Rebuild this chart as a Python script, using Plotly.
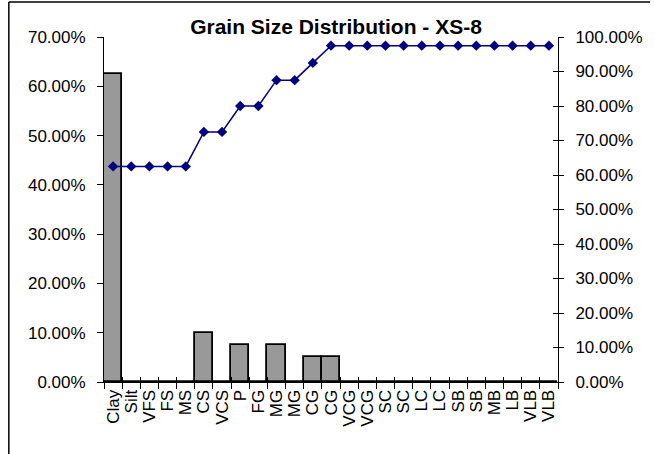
import plotly.graph_objects as go

categories = ["Clay", "Silt", "VFS", "FS", "MS", "CS", "VCS", "P", "FG", "MG", "MG",
              "CG", "CG", "VCG", "VCG", "SC", "SC", "LC", "LC", "SB", "SB", "MB", "LB",
              "VLB", "VLB"]
percent_retained = [0.625, 0, 0, 0, 0, 0.10, 0, 0.075, 0, 0.075, 0,
                    0.05, 0.05, 0, 0, 0, 0, 0, 0, 0, 0, 0, 0, 0, 0]
cumulative = [0.625, 0.625, 0.625, 0.625, 0.625, 0.725, 0.725, 0.80, 0.80, 0.875, 0.875,
              0.925, 0.975, 0.975, 0.975, 0.975, 0.975, 0.975, 0.975, 0.975, 0.975, 0.975,
              0.975, 0.975, 0.975]
left_ticks = [0, 0.1, 0.2, 0.3, 0.4, 0.5, 0.6, 0.7]
right_ticks = [0, 0.1, 0.2, 0.3, 0.4, 0.5, 0.6, 0.7, 0.8, 0.9, 1.0]

idx = list(range(len(categories)))
FONT = "Arial, Liberation Sans, sans-serif"
FS = 17

fig = go.Figure()
fig.add_trace(go.Bar(
    x=idx, y=percent_retained, marker=dict(color="#999999", line=dict(color="black", width=1.8)),
    width=1.0, showlegend=False, xaxis="x", yaxis="y"))
fig.add_trace(go.Scatter(
    x=idx, y=cumulative, mode="lines+markers",
    line=dict(color="#000080", width=1.5),
    marker=dict(symbol="diamond", size=8, color="#000080"),
    showlegend=False, xaxis="x", yaxis="y2", cliponaxis=False))

fig.update_layout(
    width=655, height=454,
    margin=dict(l=104, r=93, t=37, b=72),
    paper_bgcolor="white", plot_bgcolor="white",
    font=dict(family=FONT, size=FS, color="black"),
    bargap=0,
    title=dict(text="<b>Grain Size Distribution - XS-8</b>", x=336 / 655,
               xanchor="center", y=1 - 27 / 454, yanchor="middle", yref="container",
               font=dict(size=21, family=FONT, color="black")),
    xaxis=dict(range=[-0.5, len(categories) - 0.5], tickmode="array", tickvals=idx,
               ticktext=categories, tickangle=-90, ticks="", showgrid=False,
               showline=True, linecolor="black", linewidth=1, zeroline=False,
               tickfont=dict(size=FS, family=FONT),
               minor=dict(ticks="outside", tickmode="linear", tick0=-0.5, dtick=1,
                          ticklen=6, tickcolor="black", tickwidth=1, showgrid=False)),
    xaxis2=dict(range=[-0.5, len(categories) - 0.5], overlaying="x", anchor="y", side="bottom",
                showticklabels=False, showgrid=False, zeroline=False, showline=False,
                tickmode="linear", tick0=-0.5, dtick=1, ticks="inside", ticklen=5,
                tickcolor="black", tickwidth=1),
    yaxis=dict(range=[0, 0.7], tickmode="array", tickvals=left_ticks, tickformat=".2%",
               ticks="outside", ticklen=6, tickcolor="black", showgrid=False,
               showline=True, linecolor="black", linewidth=1, zeroline=False,
               ticklabelstandoff=8,
               tickfont=dict(size=FS, family=FONT)),
    yaxis2=dict(range=[0, 1.0], tickmode="array", tickvals=right_ticks, tickformat=".2%",
                overlaying="y", side="right", anchor="x",
                ticks="outside", ticklen=5, tickcolor="black", showgrid=False,
                showline=True, linecolor="black", linewidth=1, zeroline=False,
                ticklabelstandoff=8,
                tickfont=dict(size=FS, family=FONT)),
    yaxis3=dict(range=[0, 1.0], tickmode="array", tickvals=right_ticks,
                overlaying="y", side="right", anchor="x",
                ticks="inside", ticklen=5, tickcolor="black", showgrid=False,
                showticklabels=False, showline=False, zeroline=False),
)

# dummy invisible trace to activate overlay tick axes
fig.add_trace(go.Scatter(x=[None], y=[None], xaxis="x2", yaxis="y3", showlegend=False,
                         hoverinfo="skip"))

# outer chart frame (top and left edges)
fig.add_shape(type="line", xref="paper", yref="paper",
              x0=-96 / 458, x1=1 + 93 / 458, y0=1 + 35 / 345, y1=1 + 35 / 345,
              line=dict(color="black", width=1.5))
fig.add_shape(type="line", xref="paper", yref="paper",
              x0=-96 / 458, x1=-96 / 458, y0=-72 / 345, y1=1 + 35 / 345,
              line=dict(color="black", width=1.5))

fig.write_html("out.html")
